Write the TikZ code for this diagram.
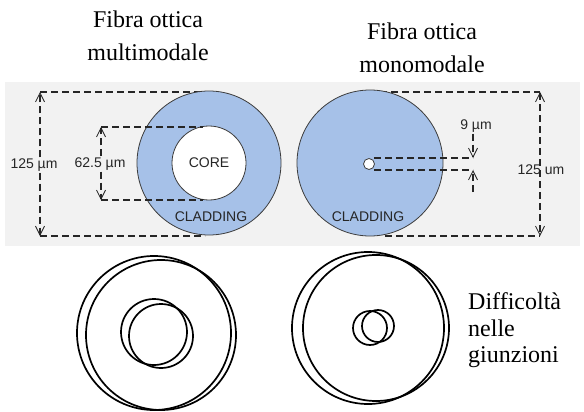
\documentclass[tikz,border=0pt]{standalone}
\usepackage{fontspec}
\setmainfont{Liberation Serif}
\setsansfont{Liberation Sans}
\usetikzlibrary{arrows.meta}
\definecolor{band}{RGB}{242,242,242}
\definecolor{clad}{RGB}{166,193,232}
\definecolor{edgec}{RGB}{60,60,60}
\begin{document}
\begin{tikzpicture}[x=1pt,y=-1pt,
  dim/.style={draw=black!85, line width=1.2pt, dash pattern=on 7pt off 4pt},
  dimtip/.style={dim, -{Straight Barb[length=9pt,width=9pt,line width=0.8pt]}},
  dimtips/.style={dim, {Straight Barb[length=9pt,width=9pt,line width=0.8pt]}-{Straight Barb[length=9pt,width=9pt,line width=0.8pt]}},
  lab/.style={font=\sffamily\fontsize{14}{16}\selectfont, text=black!85, inner sep=1pt},
  title/.style={font=\fontsize{24}{33}\selectfont, align=center, inner sep=0pt, anchor=south},
  note/.style={font=\fontsize{24}{27}\selectfont, inner sep=0pt, anchor=base west},
  cladding/.style={circle, draw=edgec, line width=0.8pt, fill=clad, inner sep=0pt},
  corec/.style={circle, draw=edgec, line width=0.8pt, fill=white, inner sep=0pt},
  ring/.style={circle, draw=black, line width=1.7pt, inner sep=0pt}
]
\useasboundingbox (0,0) rectangle (584,412);
\fill[white] (0,0) rectangle (584,412);
\fill[band] (5,82) rectangle (580,246);

% titles
\node[title] (t1) at (148,61) {Fibra ottica\\multimodale};
\node[title] (t2) at (422,73) {Fibra ottica\\monomodale};

% coordinates for the outer dimension box
\coordinate (tl) at (40,92);
\coordinate (bl) at (40,236);
\coordinate (tr) at (540,92);
\coordinate (br) at (540,236);
\coordinate (tlc) at (215,92);
\coordinate (blc) at (205,236);
\coordinate (trc) at (380,92);
\coordinate (brc) at (385,236);

\draw[dim] (tl) -- (tlc);
\draw[dim] (bl) -- (blc);
\draw[dim] (trc) -- (tr);
\draw[dim] (brc) -- (br);

% fibres
\node[cladding, minimum size=144pt] (cladL) at (209,163) {};
\node[corec, minimum size=74pt, font=\sffamily\fontsize{14}{16}\selectfont, text=black!85] (coreL) at (209,163) {CORE};
\node[cladding, minimum size=146pt] (cladR) at (370,163) {};
\node[corec, minimum size=11pt] (coreR) at (369,164) {};

\node[lab] (cl1) at (211,217) {CLADDING};
\node[lab] (cl2) at (368,217) {CLADDING};

% 125 um left
\node[lab] (d125L) at (34,165) {125 µm};
\draw[dimtip] (d125L.north -| tl) -- (tl);
\draw[dimtip] (d125L.south -| bl) -- (bl);

% 62.5 um
\coordinate (it) at (101,127);
\coordinate (ib) at (101,200);
\coordinate (itc) at (203,127);
\coordinate (ibc) at (203,200);
\draw[dim] (it) -- (itc);
\draw[dim] (ib) -- (ibc);
\node[lab] (d62) at (100,164) {62.5 µm};
\draw[dimtip] (d62.north -| it) -- (it);
\draw[dimtip] (d62.south -| ib) -- (ib);

% 9 um
\coordinate (st) at (473,158);
\coordinate (sb) at (473,170);
\coordinate (stc) at (374,158);
\coordinate (sbc) at (374,170);
\coordinate (send) at (473,192);
\draw[dim] (stc) -- (st);
\draw[dim] (sbc) -- (sb);
\node[lab] (d9) at (476,126) {9 µm};
\draw[dimtip] (d9.south -| st) -- (st);
\draw[dimtip] (send) -- (sb);

% 125 um right
\draw[dimtips] (tr) -- (br);
\node[lab] (d125R) at (541,170) {125 um};

% junction circles
\node[ring, minimum size=154pt] (jA) at (154,333) {};
\node[ring, minimum size=150pt] (jB) at (161,335) {};
\node[ring, minimum size=66pt] (jC) at (154,332) {};
\node[ring, minimum size=64pt] (jD) at (161,336) {};

\node[ring, minimum size=152pt] (jE) at (368,328) {};
\node[ring, minimum size=146pt] (jF) at (376,328) {};
\node[ring, minimum size=34pt] (jG) at (370,328) {};
\node[ring, minimum size=32pt] (jH) at (378,326) {};

\node[note] (n1) at (468,309) {Difficoltà};
\node[note] (n2) at (468,336) {nelle};
\node[note] (n3) at (468,362) {giunzioni};
\end{tikzpicture}
\end{document}
